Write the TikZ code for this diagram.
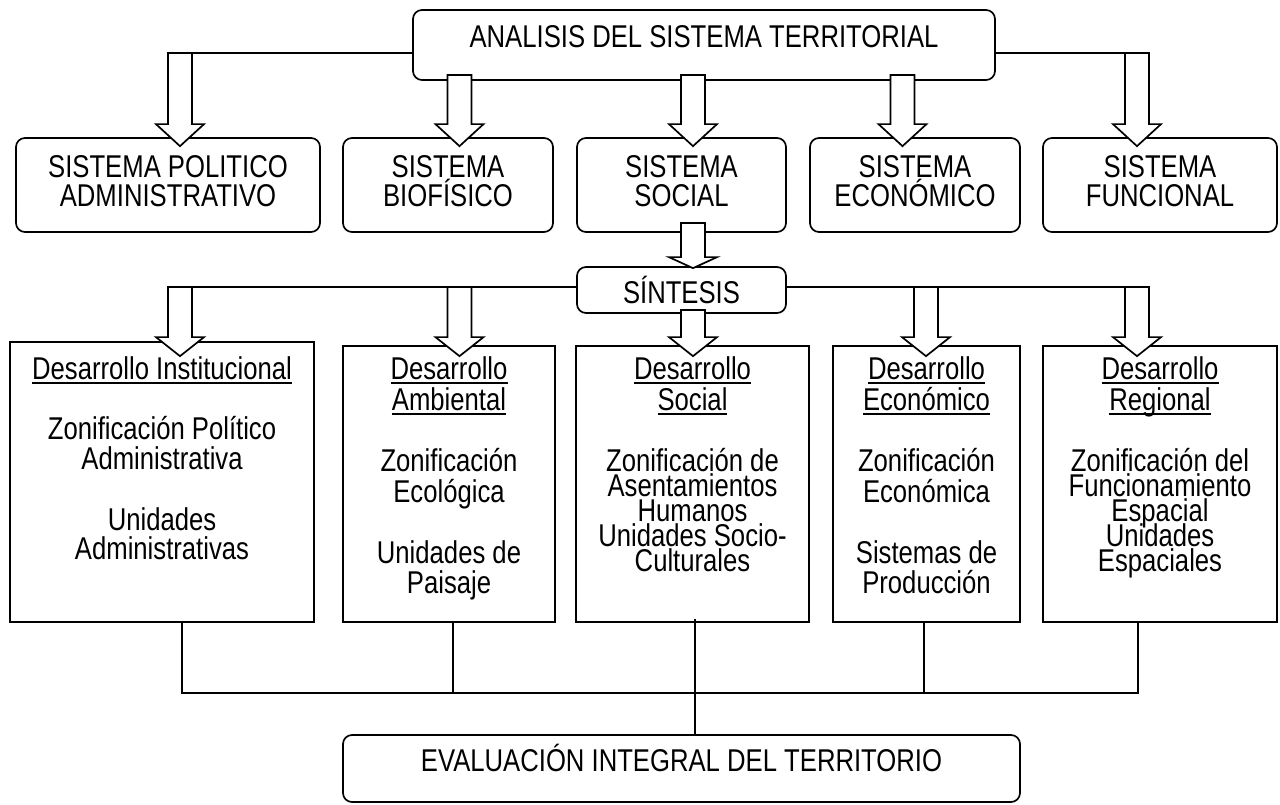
\documentclass[tikz,border=0pt]{standalone}
\usepackage{fontspec}
\setmainfont[FakeStretch=0.815]{Liberation Sans}
\usetikzlibrary{calc}

\newcommand{\ulin}[1]{\leavevmode\setbox0\hbox{#1}\rlap{\rule[-4.5pt]{\wd0}{1.8pt}}\box0}
% hollow block arrow: shaft top, tip, head length
\newcommand{\hollow}[3]{%
  \draw[harrow] let \p1=#1, \p2=#2 in
    (\x1-12pt,\y1) -- (\x1-12pt,\y2+#3pt) -- (\x1-24pt,\y2+#3pt) -- (\x1,\y2)
    -- (\x1+24pt,\y2+#3pt) -- (\x1+12pt,\y2+#3pt) -- (\x1+12pt,\y1) -- cycle;}

\begin{document}
\begin{tikzpicture}[x=1pt,y=1pt,
  every node/.style={font=\fontsize{31.5}{30.5}\selectfont, inner sep=0pt, align=center},
  sbox/.style={draw, line width=1.7pt, rounded corners=9pt},
  sys/.style={sbox, font=\fontsize{31.5}{29}\selectfont, text depth=7pt, minimum height=94},
  dbox/.style={draw, line width=1.7pt},
  dtxt/.style={anchor=north},
  harrow/.style={draw, line width=1.7pt, fill=white},
  link/.style={line width=1.7pt}]
\useasboundingbox[fill=white] (0,0) rectangle (1280,804);

% analisis
\node[sbox, minimum width=582, minimum height=70, text height=22pt, text depth=16.5pt] (top) at (704,759) {ANALISIS DEL SISTEMA TERRITORIAL};
\node[sys, minimum width=304] (pol) at (168,619) {SISTEMA POLITICO\\ADMINISTRATIVO};
\node[sys, minimum width=210] (bio) at (448,619) {SISTEMA\\BIOFÍSICO};
\node[sys, minimum width=209] (soc) at (681.5,619) {SISTEMA\\SOCIAL};
\node[sys, minimum width=210] (eco) at (915,619) {SISTEMA\\ECONÓMICO};
\node[sys, minimum width=234] (fun) at (1160,619) {SISTEMA\\FUNCIONAL};

% sintesis
\node[sbox, minimum width=209, minimum height=46, text height=28pt, text depth=0pt] (sint) at (681.5,514) {SÍNTESIS};

% desarrollo
\node[dbox, minimum width=304, minimum height=280] (dinst) at (162,322) {};
\node[dbox, minimum width=212, minimum height=276] (damb) at (449,320) {};
\node[dbox, minimum width=233, minimum height=276] (dsoc) at (692.5,320) {};
\node[dbox, minimum width=187, minimum height=276] (deco) at (926.5,320) {};
\node[dbox, minimum width=234, minimum height=276] (dreg) at (1160,320) {};
\node[dtxt] (dinst-t) at ($(dinst.north)+(0,-15)$) {\ulin{Desarrollo Institucional}\\[29.5pt]Zonificación Político\\Administrativa\\[30.5pt]Unidades\\[-2pt]Administrativas};
\node[dtxt] (damb-t) at ($(damb.north)+(0,-11)$) {\ulin{Desarrollo}\\[1pt]\ulin{Ambiental}\\[30.5pt]Zonificación\\Ecológica\\[30.5pt]Unidades de\\Paisaje};
\node[dtxt] (dsoc-t) at ($(dsoc.north)+(0,-11)$) {\ulin{Desarrollo}\\[1pt]\ulin{Social}\\[30.5pt]Zonificación de\\[-5.5pt]Asentamientos\\[-5.5pt]Humanos\\[-5.5pt]Unidades Socio-\\[-5.5pt]Culturales};
\node[dtxt] (deco-t) at ($(deco.north)+(0,-11)$) {\ulin{Desarrollo}\\[1pt]\ulin{Económico}\\[30.5pt]Zonificación\\Económica\\[30.5pt]Sistemas de\\Producción};
\node[dtxt] (dreg-t) at ($(dreg.north)+(0,-11)$) {\ulin{Desarrollo}\\[1pt]\ulin{Regional}\\[30.5pt]Zonificación del\\[-5.5pt]Funcionamiento\\[-5.5pt]Espacial\\[-5.5pt]Unidades\\[-5.5pt]Espaciales};

\node[sbox, minimum width=677, minimum height=67, text height=22.5pt, text depth=16pt] (eval) at (681.5,35.5) {EVALUACIÓN INTEGRAL DEL TERRITORIO};

% arrows from analisis
\coordinate (a1) at (180,751);
\coordinate (a2) at (459.5,729);
\coordinate (a3) at (693,729);
\coordinate (a4) at (902.5,729);
\coordinate (a5) at (1137,751);
\draw[link] (top.west |- a1) -- (a1);
\draw[link] (top.east |- a5) -- (a5);
\hollow{(a1)}{($(a1 |- pol.north)+(0,-9)$)}{22}
\hollow{(a2)}{($(a2 |- bio.north)+(0,-9)$)}{22}
\hollow{(a3)}{($(a3 |- soc.north)+(0,-9)$)}{22}
\hollow{(a4)}{($(a4 |- eco.north)+(0,-9)$)}{22}
\hollow{(a5)}{($(a5 |- fun.north)+(0,-9)$)}{22}

% social to sintesis
\coordinate (s3) at (693,581);
\hollow{(s3)}{($(s3 |- sint.north)+(0,-2)$)}{11}

% arrows from sintesis
\coordinate (b1) at (180,517);
\coordinate (b2) at (459.5,517);
\coordinate (b3) at (693,494);
\coordinate (b4) at (926,517);
\coordinate (b5) at (1137,517);
\draw[link] (sint.west |- b1) -- (b1);
\draw[link] (sint.east |- b5) -- (b5);
\hollow{(b1)}{($(b1 |- dinst.north)+(0,-15)$)}{19}
\hollow{(b2)}{($(b2 |- damb.north)+(0,-11)$)}{19}
\hollow{(b3)}{($(b3 |- dsoc.north)+(0,-11)$)}{19}
\hollow{(b4)}{($(b4 |- deco.north)+(0,-11)$)}{19}
\hollow{(b5)}{($(b5 |- dreg.north)+(0,-11)$)}{19}

% to evaluacion
\coordinate (j1) at (182,111);
\coordinate (j2) at (453,111);
\coordinate (j3) at (695,111);
\coordinate (j4) at (924,111);
\coordinate (j5) at (1138,111);
\draw[link] (dinst.south -| j1) -- (j1) -- (j5) -- (dreg.south -| j5);
\draw[link] (damb.south -| j2) -- (j2);
\draw[link] (deco.south -| j4) -- (j4);
\draw[link] ($(dsoc.south -| j3)+(0,4)$) -- (eval.north -| j3);
\end{tikzpicture}
\end{document}
